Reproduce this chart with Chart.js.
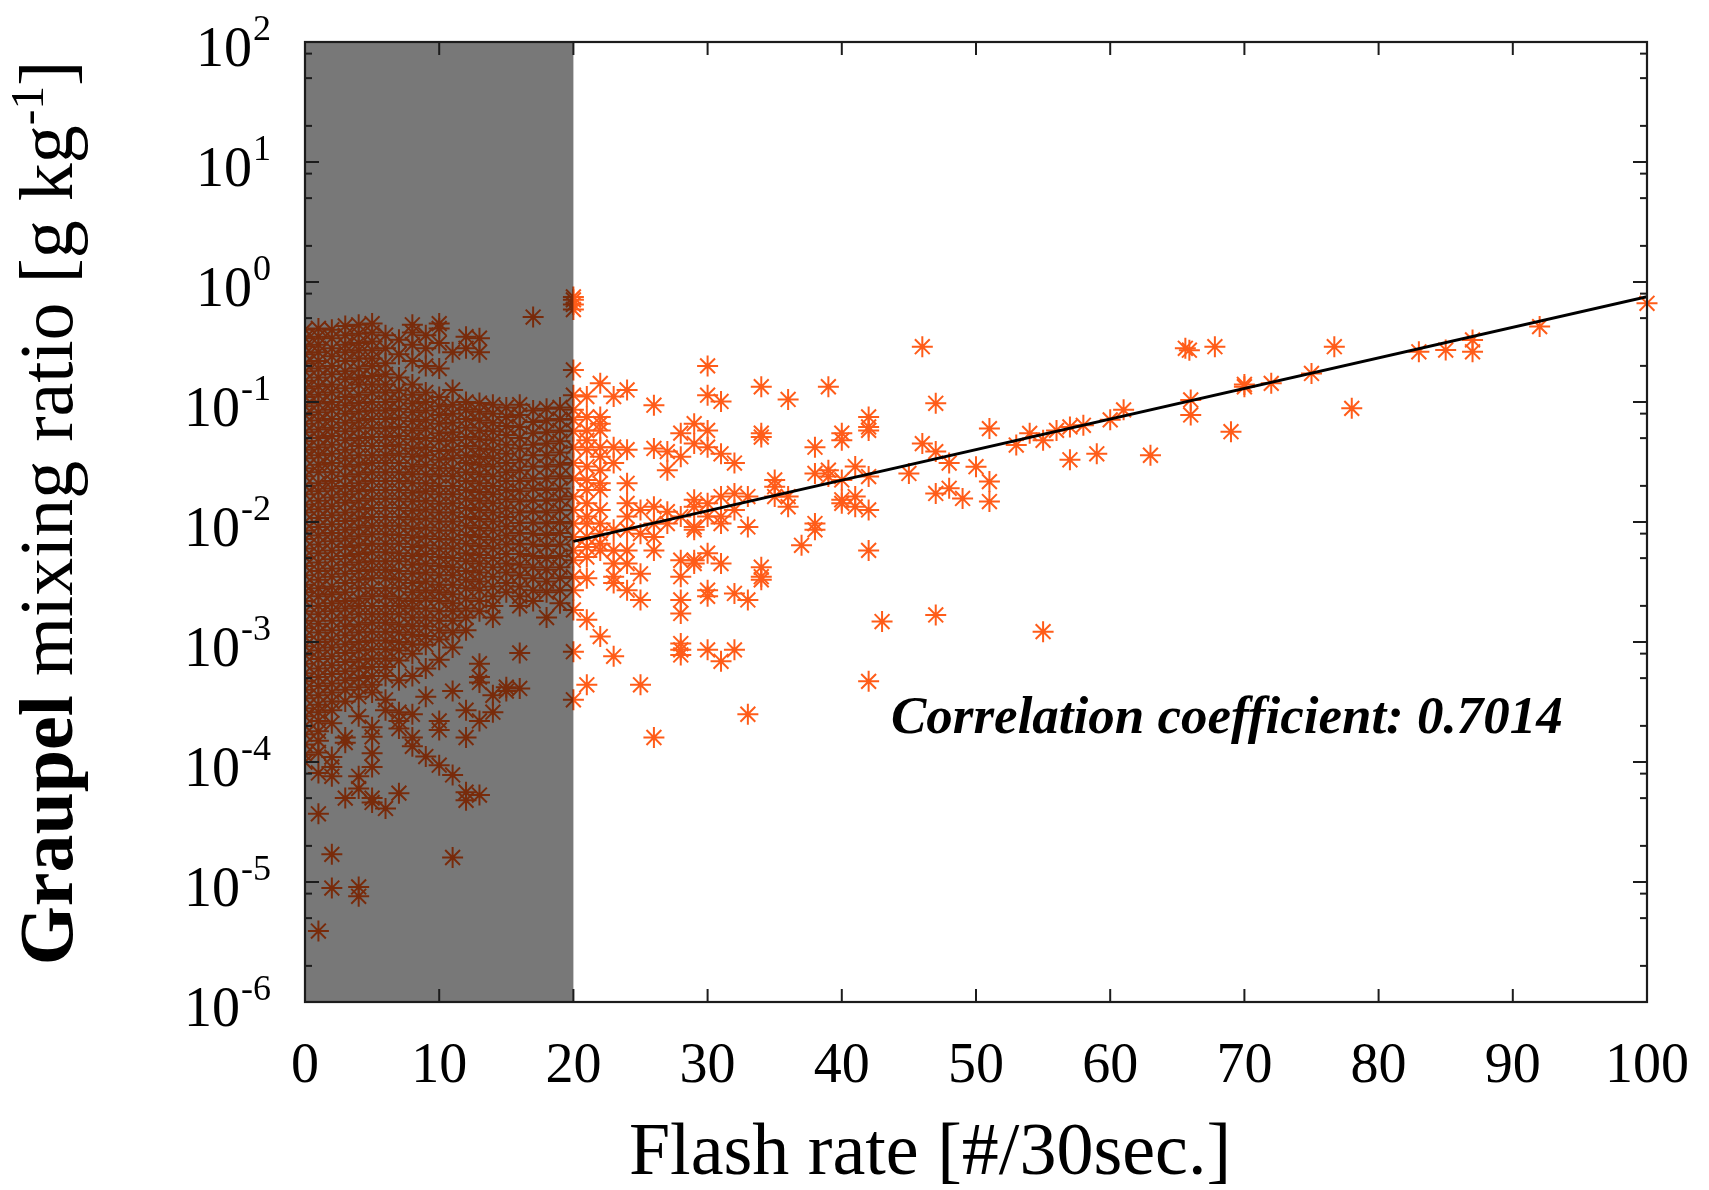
<!DOCTYPE html>
<html>
<head>
<meta charset="utf-8">
<script src="https://cdn.jsdelivr.net/npm/chart.js@4.4.0/dist/chart.umd.min.js"></script>
<style>
    html, body { margin: 0; padding: 0; background: #fff; }
    canvas { display: block; }
</style>
</head>
<body>
<canvas id="graupelChart" width="1709" height="1190"></canvas>
<script>
// graupel mixing ratio [g/kg] per flash rate column, shaded part (0..20 flashes)
var g0 = [0.40, 0.34, 0.29, 0.25, 0.21, 0.18, 0.15, 0.13, 0.11, 0.092, 0.078, 0.066, 0.056, 0.047, 0.04, 0.034, 0.028, 0.024, 0.02, 0.017, 0.014, 0.012, 0.01, 0.0085, 0.0072, 0.006, 0.0051, 0.0043, 0.0036, 0.003, 0.0026, 0.0022, 0.0018, 0.0015, 0.0013, 0.0011, 0.00092, 0.00078, 0.00066, 0.00055, 0.00047, 0.0004, 0.00034, 0.00028, 0.00024, 0.0002, 0.00017, 0.00014, 0.000115, 0.0001];
var g1 = [0.41, 0.35, 0.3, 0.26, 0.22, 0.19, 0.16, 0.135, 0.115, 0.097, 0.082, 0.07, 0.059, 0.05, 0.042, 0.036, 0.03, 0.026, 0.021, 0.018, 0.015, 0.0128, 0.0108, 0.0091, 0.0077, 0.0065, 0.0055, 0.0046, 0.0039, 0.0033, 0.0028, 0.0024, 0.002, 0.0017, 0.00142, 0.0012, 0.001, 0.00085, 0.00072, 0.0006, 0.00051, 0.00043, 0.00036, 0.0003, 0.00026, 0.00022, 0.00018, 0.00015, 0.00012, 0.000081, 0.000037, 0.0000039];
var g2 = [0.40, 0.34, 0.28, 0.24, 0.2, 0.17, 0.14, 0.12, 0.1, 0.086, 0.072, 0.061, 0.052, 0.044, 0.037, 0.031, 0.026, 0.022, 0.019, 0.016, 0.0135, 0.0114, 0.0096, 0.0081, 0.0069, 0.0058, 0.0049, 0.0041, 0.0035, 0.0029, 0.0025, 0.0021, 0.0018, 0.0015, 0.00125, 0.00105, 0.0009, 0.00076, 0.00064, 0.00054, 0.00045, 0.00038, 0.00032, 0.00027, 0.00021, 0.00011, 0.000091, 0.000076, 0.000017, 0.0000089];
var g3 = [0.43, 0.36, 0.3, 0.26, 0.22, 0.18, 0.155, 0.13, 0.11, 0.094, 0.08, 0.067, 0.057, 0.048, 0.04, 0.034, 0.029, 0.024, 0.02, 0.017, 0.0145, 0.012, 0.0102, 0.0086, 0.0073, 0.0062, 0.0052, 0.0044, 0.0037, 0.0031, 0.0026, 0.0022, 0.0019, 0.0016, 0.00135, 0.00114, 0.00096, 0.00081, 0.00068, 0.00057, 0.00048, 0.0004, 0.00032, 0.00016, 0.000145, 0.00005];
var g4 = [0.44, 0.37, 0.31, 0.27, 0.23, 0.19, 0.16, 0.14, 0.115, 0.098, 0.083, 0.07, 0.06, 0.05, 0.043, 0.036, 0.03, 0.025, 0.021, 0.018, 0.015, 0.0127, 0.0107, 0.009, 0.0076, 0.0064, 0.0054, 0.0046, 0.0039, 0.0033, 0.0028, 0.0023, 0.002, 0.0017, 0.0014, 0.0012, 0.001, 0.00085, 0.00071, 0.0006, 0.0005, 0.00042, 0.00035, 0.00024, 0.000076, 0.00006, 0.0000091, 0.0000076];
var g5 = [0.45, 0.38, 0.32, 0.27, 0.23, 0.2, 0.165, 0.14, 0.12, 0.1, 0.085, 0.072, 0.061, 0.051, 0.043, 0.036, 0.031, 0.026, 0.022, 0.0185, 0.0156, 0.0131, 0.011, 0.0093, 0.0079, 0.0066, 0.0056, 0.0047, 0.004, 0.0034, 0.0028, 0.0024, 0.002, 0.0017, 0.00145, 0.00122, 0.00103, 0.00087, 0.00073, 0.00062, 0.00052, 0.00044, 0.00038, 0.000195, 0.000162, 0.000118, 0.000091, 0.00005, 0.000046];
var g6 = [0.36, 0.28, 0.21, 0.17, 0.14, 0.12, 0.1, 0.085, 0.072, 0.06, 0.051, 0.043, 0.036, 0.031, 0.026, 0.022, 0.0185, 0.0156, 0.0131, 0.011, 0.0093, 0.0079, 0.0066, 0.0056, 0.0047, 0.004, 0.0034, 0.0028, 0.0024, 0.002, 0.0017, 0.00145, 0.00122, 0.00103, 0.00087, 0.00073, 0.00062, 0.00052, 0.00033, 0.00027, 0.000041];
var g7 = [0.33, 0.25, 0.16, 0.125, 0.105, 0.088, 0.074, 0.062, 0.052, 0.044, 0.037, 0.031, 0.026, 0.022, 0.0185, 0.0156, 0.0131, 0.011, 0.0093, 0.0078, 0.0066, 0.0055, 0.0047, 0.0039, 0.0033, 0.0028, 0.0023, 0.002, 0.0017, 0.0014, 0.0012, 0.001, 0.00085, 0.0007, 0.00048, 0.00026, 0.00022, 0.00019, 0.000055];
var g8 = [0.44, 0.38, 0.3, 0.22, 0.14, 0.115, 0.097, 0.082, 0.069, 0.058, 0.049, 0.041, 0.035, 0.029, 0.025, 0.021, 0.0175, 0.0148, 0.0124, 0.0105, 0.0088, 0.0074, 0.0062, 0.0052, 0.0044, 0.0037, 0.0031, 0.0026, 0.0022, 0.0019, 0.0016, 0.00135, 0.00115, 0.00096, 0.0008, 0.00052, 0.00025, 0.00016, 0.000135];
var g9 = [0.36, 0.28, 0.2, 0.12, 0.1, 0.085, 0.071, 0.06, 0.05, 0.042, 0.036, 0.03, 0.025, 0.021, 0.018, 0.015, 0.0127, 0.0107, 0.009, 0.0076, 0.0064, 0.0054, 0.0045, 0.0038, 0.0032, 0.0027, 0.0023, 0.0019, 0.0016, 0.00135, 0.00112, 0.00095, 0.0006, 0.00035, 0.000111];
var g10 = [0.45, 0.41, 0.31, 0.19, 0.11, 0.092, 0.078, 0.066, 0.055, 0.047, 0.039, 0.033, 0.028, 0.024, 0.02, 0.017, 0.0142, 0.012, 0.0101, 0.0085, 0.0072, 0.006, 0.0051, 0.0043, 0.0036, 0.003, 0.0026, 0.0022, 0.0018, 0.0015, 0.00125, 0.00105, 0.00071, 0.00022, 0.000185, 0.000094];
var g11 = [0.26, 0.126, 0.095, 0.08, 0.067, 0.056, 0.048, 0.04, 0.034, 0.028, 0.024, 0.02, 0.017, 0.0143, 0.012, 0.0101, 0.0085, 0.0071, 0.006, 0.005, 0.0042, 0.0036, 0.003, 0.0025, 0.0021, 0.0018, 0.0015, 0.0012, 0.0009, 0.00039, 0.000078, 0.000016];
var g12 = [0.35, 0.28, 0.1, 0.086, 0.072, 0.061, 0.051, 0.043, 0.036, 0.031, 0.026, 0.022, 0.0185, 0.0156, 0.0131, 0.011, 0.0093, 0.0078, 0.0066, 0.0055, 0.0047, 0.0039, 0.0033, 0.0028, 0.0023, 0.0019, 0.0016, 0.00125, 0.00027, 0.00016, 0.000056, 0.000048];
var g13 = [0.34, 0.26, 0.098, 0.083, 0.07, 0.058, 0.049, 0.041, 0.035, 0.03, 0.025, 0.021, 0.0178, 0.015, 0.0126, 0.0106, 0.0089, 0.0075, 0.0063, 0.0053, 0.0045, 0.0038, 0.0032, 0.0027, 0.0022, 0.0018, 0.00066, 0.00051, 0.00046, 0.00022, 0.000053];
var g14 = [0.095, 0.08, 0.067, 0.057, 0.048, 0.04, 0.034, 0.029, 0.024, 0.02, 0.017, 0.0143, 0.012, 0.0101, 0.0085, 0.0071, 0.006, 0.005, 0.0042, 0.0035, 0.0029, 0.0024, 0.002, 0.0016, 0.00036, 0.00026];
var g15 = [0.09, 0.075, 0.063, 0.053, 0.044, 0.037, 0.031, 0.026, 0.022, 0.0185, 0.0155, 0.013, 0.011, 0.0092, 0.0077, 0.0065, 0.0054, 0.0045, 0.0038, 0.0031, 0.0026, 0.00042, 0.00039];
var g16 = [0.095, 0.078, 0.062, 0.05, 0.041, 0.033, 0.027, 0.022, 0.018, 0.0148, 0.012, 0.0098, 0.0081, 0.0066, 0.0054, 0.0044, 0.0036, 0.0029, 0.0024, 0.002, 0.00081, 0.00041];
var g17 = [0.51, 0.085, 0.068, 0.055, 0.044, 0.036, 0.029, 0.023, 0.019, 0.0152, 0.0123, 0.0099, 0.008, 0.0065, 0.0052, 0.0042, 0.0034, 0.0027, 0.0022];
var g18 = [0.088, 0.07, 0.056, 0.045, 0.036, 0.029, 0.023, 0.0185, 0.015, 0.012, 0.0097, 0.0078, 0.0063, 0.005, 0.004, 0.0032, 0.0026, 0.0016];
var g19 = [0.09, 0.072, 0.058, 0.047, 0.038, 0.03, 0.024, 0.019, 0.0155, 0.0125, 0.01, 0.0081, 0.0065, 0.0052, 0.0042, 0.0034, 0.0027, 0.0021];
var g20 = [0.75, 0.71, 0.65, 0.59, 0.185, 0.114, 0.086, 0.071, 0.057, 0.042, 0.031, 0.0231, 0.0163, 0.0126, 0.0097, 0.0075, 0.0058, 0.0048, 0.0035, 0.0027, 0.00185, 0.00083, 0.00033];

// unshaded columns, flash rate 21..42
var c21 = [0.111, 0.075, 0.058, 0.048, 0.040, 0.029, 0.0224, 0.0185, 0.0143, 0.0111, 0.0097, 0.0075, 0.0062, 0.0051, 0.0034, 0.00153, 0.00044];
var c22 = [0.143, 0.075, 0.066, 0.058, 0.042, 0.035, 0.027, 0.021, 0.0185, 0.0126, 0.0097, 0.008, 0.0066, 0.0058, 0.00111];
var c23 = [0.111, 0.042, 0.031, 0.0086, 0.0058, 0.0045, 0.0035, 0.0031, 0.00076];
var c24 = [0.126, 0.04, 0.021, 0.0143, 0.0111, 0.0086, 0.0058, 0.0045, 0.0027];
var c25 = [0.0126, 0.008, 0.0037, 0.00224, 0.00044];
var c26 = [0.094, 0.041, 0.0134, 0.0097, 0.0075, 0.0058, 0.00016];
var c27 = [0.0386, 0.027, 0.0122, 0.0097];
var c28 = [0.055, 0.035, 0.0111, 0.0048, 0.0035, 0.00224, 0.00173, 0.00097, 0.00086, 0.00078];
var c29 = [0.066, 0.045, 0.0153, 0.0134, 0.0091, 0.0086, 0.0048, 0.0045];
var c30 = [0.2, 0.114, 0.058, 0.042, 0.0143, 0.0111, 0.0055, 0.0027, 0.0024, 0.00086];
var c31 = [0.101, 0.037, 0.0163, 0.0111, 0.0097, 0.0045, 0.00069];
var c32 = [0.031, 0.0173, 0.0126, 0.00254, 0.00086];
var c33 = [0.0163, 0.0091, 0.00224, 0.00025];
var c34 = [0.134, 0.055, 0.051, 0.0042, 0.0035, 0.0033];
var c35 = [0.0224, 0.0197, 0.0163];
var c36 = [0.105, 0.0163, 0.0134];
var c37 = [0.0064];
var c38 = [0.042, 0.0254, 0.0097, 0.0086];
var c39 = [0.134, 0.027, 0.0239];
var c40 = [0.055, 0.048, 0.0224, 0.0153, 0.0143];
var c41 = [0.029, 0.0163, 0.0134];
var c42 = [0.075, 0.062, 0.058, 0.0239, 0.0126, 0.0058, 0.00047];

// sparse high flash rates
var rateHigh = [43, 45, 46, 46, 47, 47, 47, 47, 48, 48, 49, 50, 51, 51, 51, 53, 54, 55, 55, 56, 57, 57, 58, 59, 60, 61, 63, 65.6, 65.9, 66, 66, 67.8, 69, 70, 70, 72, 75, 76.7, 78, 83, 85, 87, 87, 92, 100];
var graupelHigh = [0.00148, 0.0254, 0.289, 0.045, 0.0975, 0.0386, 0.0173, 0.00168, 0.031, 0.0191, 0.0157, 0.0289, 0.06, 0.0217, 0.0148, 0.0438, 0.0548, 0.048, 0.00122, 0.058, 0.062, 0.033, 0.064, 0.037, 0.071, 0.086, 0.036, 0.28, 0.27, 0.104, 0.078, 0.289, 0.0566, 0.134, 0.14, 0.143, 0.173, 0.289, 0.0885, 0.262, 0.271, 0.329, 0.262, 0.425, 0.664];

// exponential fit drawn between its two ends
var fitRate = [20, 100];
var fitGraupel = [0.0069, 0.755];

var shadeRange = [0, 20];
var xTicks = [0, 10, 20, 30, 40, 50, 60, 70, 80, 90, 100];
var yExponents = [-6, -5, -4, -3, -2, -1, 0, 1, 2];
var yMinorFactors = [2, 5, 8];

var shadedCols = [g0, g1, g2, g3, g4, g5, g6, g7, g8, g9, g10, g11, g12, g13, g14, g15, g16, g17, g18, g19, g20];
var clearCols = [c21, c22, c23, c24, c25, c26, c27, c28, c29, c30, c31, c32, c33, c34, c35, c36, c37, c38, c39, c40, c41, c42];

var points = [];
shadedCols.forEach(function (col, i) {
    col.forEach(function (v) { points.push({ x: i, y: v }); });
});
clearCols.forEach(function (col, i) {
    col.forEach(function (v) { points.push({ x: 21 + i, y: v }); });
});
rateHigh.forEach(function (r, i) { points.push({ x: r, y: graupelHigh[i] }); });

var fitLine = fitRate.map(function (r, i) { return { x: r, y: fitGraupel[i] }; });

var SERIF = '"Liberation Serif", "Times New Roman", serif';

function tickLine(ctx, x1, y1, x2, y2) {
    ctx.beginPath();
    ctx.moveTo(x1, y1);
    ctx.lineTo(x2, y2);
    ctx.stroke();
}

var framePlugin = {
    id: 'framePlugin',
    beforeDraw: function (chart) {
        var ctx = chart.ctx;
        ctx.save();
        ctx.fillStyle = '#fff';
        ctx.fillRect(0, 0, chart.width, chart.height);
        ctx.restore();
    },
    afterDatasetsDraw: function (chart) {
        var ctx = chart.ctx;
        var a = chart.chartArea;
        var xs = chart.scales.x;
        var ys = chart.scales.y;
        ctx.save();

        // shaded low flash rate band (darkens the markers under it)
        var sx0 = xs.getPixelForValue(shadeRange[0]);
        var sx1 = xs.getPixelForValue(shadeRange[1]);
        ctx.fillStyle = 'rgba(0, 0, 0, 0.53)';
        ctx.fillRect(sx0, a.top, sx1 - sx0, a.bottom - a.top);

        // inward tick marks
        ctx.strokeStyle = '#1c1c1c';
        ctx.lineWidth = 2;
        xTicks.forEach(function (t) {
            var px = xs.getPixelForValue(t);
            tickLine(ctx, px, a.bottom, px, a.bottom - 13);
            tickLine(ctx, px, a.top, px, a.top + 13);
        });
        yExponents.forEach(function (e) {
            var py = ys.getPixelForValue(Math.pow(10, e));
            tickLine(ctx, a.left, py, a.left + 14, py);
            tickLine(ctx, a.right, py, a.right - 14, py);
            if (e < 2) {
                yMinorFactors.forEach(function (f) {
                    var pm = ys.getPixelForValue(f * Math.pow(10, e));
                    tickLine(ctx, a.left, pm, a.left + 7, pm);
                    tickLine(ctx, a.right, pm, a.right - 7, pm);
                });
            }
        });

        // frame
        ctx.lineWidth = 2.2;
        ctx.strokeRect(a.left, a.top, a.right - a.left, a.bottom - a.top);

        ctx.fillStyle = '#000';

        // x tick labels
        ctx.font = '56px ' + SERIF;
        ctx.textAlign = 'center';
        ctx.textBaseline = 'alphabetic';
        xTicks.forEach(function (t) {
            ctx.fillText(String(t), xs.getPixelForValue(t), a.bottom + 80);
        });

        // y tick labels 10^n
        ctx.textAlign = 'right';
        yExponents.forEach(function (e) {
            var py = ys.getPixelForValue(Math.pow(10, e));
            var right = a.left - 34;
            ctx.font = '36px ' + SERIF;
            var exp = String(e);
            var ew = ctx.measureText(exp).width;
            ctx.fillText(exp, right, py - 2);
            ctx.font = '56px ' + SERIF;
            ctx.fillText('10', right - ew - 1, py + 24);
        });

        // x title
        ctx.textAlign = 'center';
        ctx.font = '74px ' + SERIF;
        ctx.fillText('Flash rate [#/30sec.]', 930, a.bottom + 172);

        // y title, rotated, bold first word and superscript unit
        var parts = [
            { t: 'Graupel', f: 'bold 76px ' + SERIF, dy: 0 },
            { t: ' mixing ratio [g kg', f: '76px ' + SERIF, dy: 0 },
            { t: '-1', f: '47px ' + SERIF, dy: -29 },
            { t: ']', f: '76px ' + SERIF, dy: 0 }
        ];
        var total = 0;
        parts.forEach(function (p) {
            ctx.font = p.f;
            p.w = ctx.measureText(p.t).width;
            total += p.w;
        });
        ctx.translate(72, 513);
        ctx.rotate(-Math.PI / 2);
        ctx.textAlign = 'left';
        var cx = -total / 2;
        parts.forEach(function (p) {
            ctx.font = p.f;
            ctx.fillText(p.t, cx, p.dy);
            cx += p.w;
        });
        ctx.setTransform(1, 0, 0, 1, 0, 0);

        // correlation note
        ctx.textAlign = 'left';
        ctx.font = 'italic bold 53px ' + SERIF;
        ctx.fillText('Correlation coefficient: 0.7014', 891, 733);

        ctx.restore();
    }
};

var ctx = document.getElementById('graupelChart').getContext('2d');
var graupelChart = new Chart(ctx, {
    type: 'scatter',
    data: {
        datasets: [{
            label: 'Graupel',
            data: points,
            pointStyle: 'star',
            pointRadius: 10.5,
            borderWidth: 2,
            borderColor: 'rgb(255, 92, 25)',
            backgroundColor: 'rgb(255, 92, 25)',
            clip: { left: 0, top: 0, right: 12, bottom: 0 },
            order: 2
        }, {
            type: 'line',
            label: 'Fit',
            data: fitLine,
            borderColor: '#000',
            borderWidth: 3,
            pointRadius: 0,
            fill: false,
            order: 1
        }]
    },
    options: {
        responsive: false,
        animation: false,
        devicePixelRatio: 1,
        layout: {
            padding: { left: 305, right: 62, top: 42, bottom: 188 }
        },
        scales: {
            x: { type: 'linear', min: 0, max: 100, display: false },
            y: { type: 'logarithmic', min: 1e-6, max: 100, display: false }
        },
        plugins: {
            legend: { display: false },
            tooltip: { enabled: false }
        }
    },
    plugins: [framePlugin]
});
</script>
</body>
</html>
